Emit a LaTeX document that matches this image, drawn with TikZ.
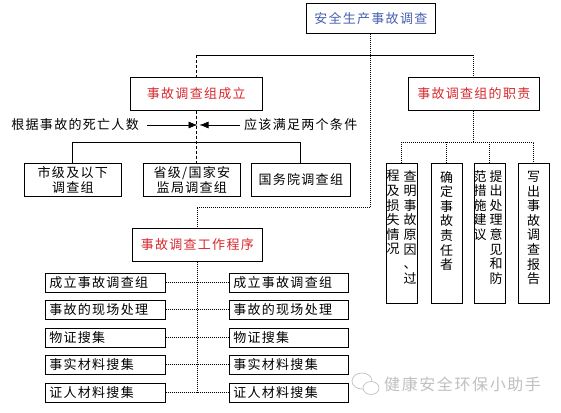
\documentclass[tikz,border=0pt]{standalone}
\usepackage{fontspec}
\newfontfamily\cjk{Noto Sans CJK SC}[LetterSpace=10]
\newfontfamily\cjkv{Noto Sans CJK SC}
\usetikzlibrary{arrows.meta}
\definecolor{redtxt}{RGB}{215,40,45}
\definecolor{bluetxt}{RGB}{70,95,175}
\tikzset{
  box/.style={draw=black, line width=0.6pt, inner sep=0pt, anchor=north west,
    font=\cjk\fontsize{13}{15}\selectfont, align=center},
  lbox/.style={box, minimum width=120, minimum height=19, text width=112, align=left},
  vbox/.style={draw=black, line width=0.6pt, anchor=north west, minimum width=31, minimum height=140, inner sep=0pt},
  vtext/.style={anchor=north, inner sep=0pt, align=center, font=\cjkv\fontsize{13}{14.6}\selectfont},
  dotline/.style={densely dotted, line width=1pt},
  solidline/.style={line width=0.7pt},
  dashline/.style={densely dashed, line width=0.7pt},
  lab/.style={inner sep=0pt, font=\cjk\fontsize{13}{15}\selectfont},
  arr/.style={line width=0.6pt, -{Latex[length=9pt,width=7pt]}}
}
\begin{document}
\begin{tikzpicture}[x=1pt,y=-1pt]
\useasboundingbox (0,0) rectangle (561,412);
% boxes
\node[box, minimum width=129, minimum height=30, text=bluetxt] (top) at (306,3) {安全生产事故调查};
\node[box, minimum width=132, minimum height=33, text=redtxt] (l1) at (130,77) {事故调查组成立};
\node[box, minimum width=131, minimum height=33, text=redtxt] (r1) at (408,77) {事故调查组的职责};
\node[box, minimum width=97, minimum height=33] (a1) at (24,163) {市级及以下\\调查组};
\node[box, minimum width=97, minimum height=33] (a2) at (143,163) {省级/国家安\\监局调查组};
\node[box, minimum width=99, minimum height=33] (a3) at (251,163) {国务院调查组};
\node[box, minimum width=130, minimum height=33, text=redtxt] (p) at (132,228) {事故调查工作程序};
% procedure rows
\node[lbox] (L1) at (45,272.5) {成立事故调查组};
\node[lbox] (L2) at (45,300) {事故的现场处理};
\node[lbox] (L3) at (45,327.5) {物证搜集};
\node[lbox] (L4) at (45,355) {事实材料搜集};
\node[lbox] (L5) at (45,382.5) {证人材料搜集};
\node[lbox, minimum width=119, text width=111] (R1) at (229,272.5) {成立事故调查组};
\node[lbox, minimum width=119, text width=111] (R2) at (229,300) {事故的现场处理};
\node[lbox, minimum width=119, text width=111] (R3) at (229,327.5) {物证搜集};
\node[lbox, minimum width=119, text width=111] (R4) at (229,355) {事实材料搜集};
\node[lbox, minimum width=119, text width=111] (R5) at (229,382.5) {证人材料搜集};
% vertical boxes
\node[vbox] (v1) at (386,163) {};
\node[vbox] (v2) at (431,163) {};
\node[vbox] (v3) at (474,163) {};
\node[vbox] (v4) at (518,163) {};
\node[vtext] (v1a) at (410,170) {查\\明\\事\\故\\原\\因\\、\\过};
\node[vtext] (v1b) at (393,170) {程\\及\\损\\失\\情\\况};
\node[vtext] (v2a) at (446.5,171) {确\\定\\事\\故\\责\\任\\者};
\node[vtext] (v3a) at (496,170) {提\\出\\处\\理\\意\\见\\和\\防};
\node[vtext] (v3b) at (480,170) {范\\措\\施\\建\\议};
\node[vtext] (v4a) at (533.5,171) {写\\出\\事\\故\\调\\查\\报\\告};
% labels with arrows
\node[lab, anchor=east] (lab1) at (139,125) {根据事故的死亡人数};
\node[lab, anchor=west] (lab2) at (244,125) {应该满足两个条件};
\coordinate (t1) at (197.5,125);
\coordinate (t2) at (199.5,125);
\draw[arr] ([xshift=8pt]lab1.east) -- (t1);
\draw[arr] ([xshift=-4pt]lab2.west) -- (t2);
% connectors
\coordinate (b) at (0,55);
\coordinate (c) at (0,142);
\coordinate (j) at (0,207);
\draw[dotline] (top.south) -- (top.south |- j) -- (p.north |- j) -- (p.north);
\draw[solidline] (l1.north |- b) -- (r1.north |- b);
\draw[dashline] (l1.north |- b) -- (l1.north);
\draw[dotline] (r1.north |- b) -- (r1.north);
\draw[dashline] (l1.south) -- (l1.south |- a2.north);
\draw[solidline] (a1.north) -- (a1.north |- c) -- (a3.north |- c) -- (a3.north);
\draw[dotline] (r1.south) -- (r1.south |- c);
\draw[dotline] (v1.north) -- (v1.north |- c) -- (v4.north |- c) -- (v4.north);
\draw[dotline] (v2.north |- c) -- (v2.north);
\draw[dotline] (v3.north |- c) -- (v3.north);
\draw[dotline] (p.south) -- (p.south |- L5.east);
\foreach \i in {1,...,5} { \draw[dotline] (L\i.east) -- (R\i.west); }
% watermark
\begin{scope}[gray!45, line width=0.8pt]
  \draw (362,381) ellipse [x radius=10, y radius=8];
  \draw[fill=white] (371,388) ellipse [x radius=8, y radius=6.5];
\end{scope}
\node[lab, anchor=west, text=gray!50, font=\cjk\fontsize{16}{18}\selectfont] (wm) at (384,384) {健康安全环保小助手};
\end{tikzpicture}
\end{document}
